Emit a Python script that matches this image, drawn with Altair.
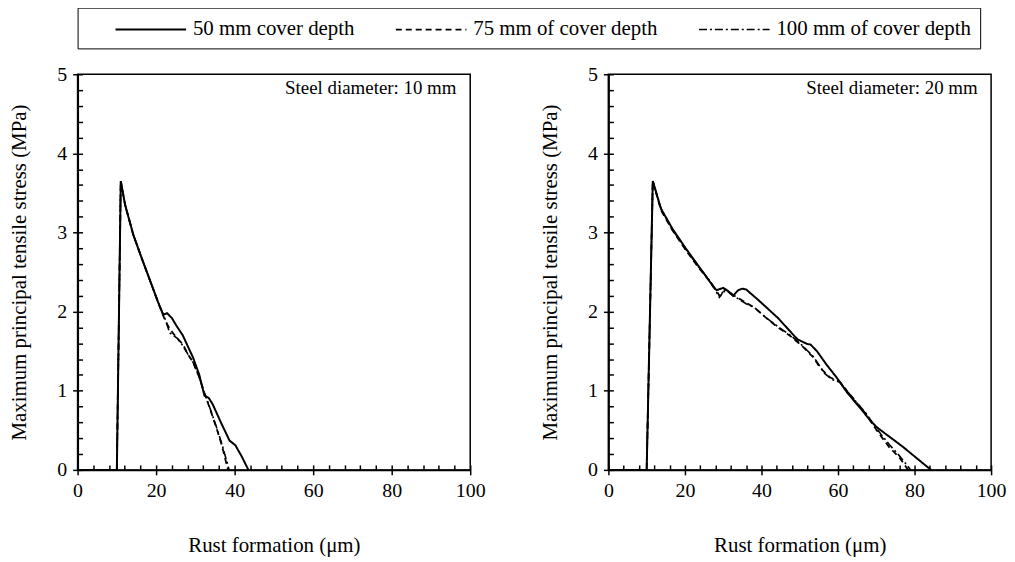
import altair as alt
import pandas as pd

FONT = "'Liberation Serif', 'Times New Roman', serif"
SERIES = ["50 mm cover depth", "75 mm of cover depth", "100 mm of cover depth"]

X_MAJOR = [0, 20, 40, 60, 80, 100]
X_MINOR = list(range(0, 101, 4))
Y_MAJOR = [0, 1, 2, 3, 4, 5]
Y_MINOR = [i / 5 for i in range(0, 26)]

# ---- Steel diameter 10 mm ----
d10_c50_x = [0, 10, 11.0, 12.1, 14.2, 16.3, 18.4, 20.5, 21.8, 22.8, 24.0, 25.2, 26.8, 28.0, 29.4, 31.0, 32.3, 33.4, 34.4, 36.5, 38.7, 40.2, 41.8, 43.5]
d10_c50_y = [0, 0, 3.65, 3.35, 2.97, 2.68, 2.40, 2.12, 1.96, 1.98, 1.92, 1.82, 1.70, 1.57, 1.42, 1.20, 0.94, 0.91, 0.83, 0.60, 0.37, 0.31, 0.17, 0]
d10_c75_x = [0, 10, 11.0, 12.1, 14.2, 16.3, 18.4, 20.5, 22.2, 23.5, 25.2, 26.8, 28.0, 29.4, 31.0, 32.3, 33.8, 35.3, 36.8, 38.3]
d10_c75_y = [0, 0, 3.65, 3.35, 2.97, 2.68, 2.40, 2.12, 1.90, 1.78, 1.67, 1.59, 1.47, 1.36, 1.17, 0.97, 0.76, 0.54, 0.30, 0]
d10_c100_x = [0, 10, 11.0, 12.1, 14.2, 16.3, 18.4, 20.5, 22.2, 23.5, 24.3, 25.5, 26.8, 28.0, 29.4, 31.0, 32.3, 33.8, 35.3, 36.8, 38.6]
d10_c100_y = [0, 0, 3.65, 3.35, 2.97, 2.68, 2.40, 2.12, 1.92, 1.73, 1.70, 1.66, 1.57, 1.47, 1.36, 1.17, 0.97, 0.77, 0.55, 0.32, 0]

# ---- Steel diameter 20 mm ----
d20_c50_x = [0, 10, 11.6, 13.75, 16.7, 20.2, 23.5, 26.2, 27.5, 28.3, 28.8, 30.0, 31.3, 32.6, 33.9, 35.0, 36.0, 39.1, 44.3, 49.4, 52.0, 52.8, 54.5, 57.0, 59.6, 62.5, 66.0, 68.5, 70.1, 73.4, 77.0, 80.5, 84.3]
d20_c50_y = [0, 0, 3.65, 3.30, 3.05, 2.80, 2.58, 2.40, 2.31, 2.27, 2.28, 2.30, 2.26, 2.20, 2.27, 2.29, 2.28, 2.15, 1.92, 1.65, 1.59, 1.585, 1.50, 1.33, 1.17, 0.97, 0.77, 0.62, 0.54, 0.42, 0.29, 0.15, 0]
d20_c75_x = [0, 10, 11.6, 13.75, 16.7, 20.2, 23.5, 26.2, 27.5, 28.3, 29.0, 29.8, 30.5, 31.3, 32.6, 34.0, 36.0, 38.2, 41.0, 44.3, 47.6, 50.5, 53.6, 55.3, 57.9, 60.5, 64.0, 67.4, 70.1, 73.4, 76.0, 78.3]
d20_c75_y = [0, 0, 3.65, 3.28, 3.03, 2.78, 2.56, 2.40, 2.31, 2.26, 2.20, 2.21, 2.28, 2.26, 2.21, 2.17, 2.11, 2.05, 1.93, 1.80, 1.69, 1.57, 1.42, 1.29, 1.17, 1.11, 0.90, 0.70, 0.50, 0.285, 0.16, 0]
d20_c100_x = [0, 10, 11.6, 13.75, 16.7, 20.2, 23.5, 26.2, 27.5, 28.3, 29.0, 29.6, 30.2, 31.3, 32.6, 34.0, 36.0, 38.2, 41.0, 44.3, 47.6, 50.5, 53.6, 56.5, 58.5, 60.5, 64.0, 67.4, 70.1, 73.4, 76.0, 79.0]
d20_c100_y = [0, 0, 3.65, 3.30, 3.04, 2.79, 2.57, 2.41, 2.32, 2.24, 2.18, 2.22, 2.29, 2.25, 2.20, 2.16, 2.10, 2.05, 1.93, 1.81, 1.70, 1.58, 1.43, 1.22, 1.14, 1.11, 0.90, 0.71, 0.52, 0.32, 0.18, 0]


def make_df(parts):
    rows = []
    for name, xs, ys in parts:
        for i, (x, y) in enumerate(zip(xs, ys)):
            rows.append({"series": name, "x": x, "y": y, "idx": i})
    return pd.DataFrame(rows)


df10 = make_df([(SERIES[0], d10_c50_x, d10_c50_y), (SERIES[1], d10_c75_x, d10_c75_y), (SERIES[2], d10_c100_x, d10_c100_y)])
df20 = make_df([(SERIES[0], d20_c50_x, d20_c50_y), (SERIES[1], d20_c75_x, d20_c75_y), (SERIES[2], d20_c100_x, d20_c100_y)])

# wide line symbol: path spans -1..5 in unit space, so it is 3x as long as the nominal symbol size
LEGEND = alt.Legend(
    title=None, orient="none", legendX=0, legendY=-67, direction="horizontal",
    symbolType="M-1,0H5", symbolSize=560, symbolStrokeWidth=1.8, symbolStrokeColor="black",
    symbolOffset=28,
    labelFont=FONT, labelFontSize=21, labelColor="black", labelLimit=500, labelOffset=53,
    strokeColor="black", padding=9, columnPadding=12,
)


def panel(df, label, width):
    xscale = alt.Scale(domain=[0, 100], nice=False, zero=False)
    yscale = alt.Scale(domain=[0, 5], nice=False, zero=False)
    base = alt.Chart(df)
    lines = base.mark_line(color="black").encode(
        x=alt.X("x:Q", scale=xscale, axis=alt.Axis(
            values=X_MAJOR, title="Rust formation (μm)", tickSize=5, tickWidth=1.5, tickColor="black",
            domainColor="black", domainWidth=2, labelFont=FONT, labelFontSize=20, labelColor="black",
            labelPadding=6, titleFont=FONT, titleFontSize=21, titleFontWeight="normal", titleColor="black",
            titlePadding=34, grid=False, labelFlush=False)),
        y=alt.Y("y:Q", scale=yscale, axis=alt.Axis(
            values=Y_MAJOR, title="Maximum principal tensile stress (MPa)", tickSize=5, tickWidth=1.5,
            tickColor="black", domainColor="black", domainWidth=2, labelFont=FONT, labelFontSize=20,
            labelColor="black", labelPadding=6, titleFont=FONT, titleFontSize=21, titleFontWeight="normal",
            titleColor="black", titlePadding=27, grid=False, labelFlush=False)),
        strokeDash=alt.StrokeDash("series:N", scale=alt.Scale(domain=SERIES, range=[[1, 0], [6, 4], [8, 3, 2, 3]]), legend=LEGEND),
        strokeWidth=alt.StrokeWidth("series:N", scale=alt.Scale(domain=SERIES, range=[2, 1.6, 1.6]), legend=None),
        order="idx:Q",
    )
    minor = base.mark_point(opacity=0).encode(
        x=alt.X("x:Q", scale=xscale, axis=alt.Axis(
            orient="bottom", values=X_MINOR, labels=False, domain=False, tickSize=5, tickWidth=1.5,
            tickColor="black", offset=-5, title=None, grid=False)),
        y=alt.Y("y:Q", scale=yscale, axis=alt.Axis(
            orient="left", values=Y_MINOR, labels=False, domain=False, tickSize=5, tickWidth=1.5,
            tickColor="black", offset=-5, title=None, grid=False)),
    )
    text = alt.Chart(pd.DataFrame({"x": [96.5], "y": [4.82], "t": [label]})).mark_text(
        align="right", baseline="middle", font=FONT, fontSize=19, color="black"
    ).encode(
        x=alt.X("x:Q", scale=xscale, axis=None),
        y=alt.Y("y:Q", scale=yscale, axis=None),
        text="t:N",
    )
    return alt.layer(lines, minor, text).resolve_axis(x="independent", y="independent").properties(width=width, height=398)


left = panel(df10, "Steel diameter: 10 mm", 395)
right = panel(df20, "Steel diameter: 20 mm", 385)

chart = alt.hconcat(left, right, spacing=53).resolve_scale(
    strokeDash="shared", strokeWidth="shared"
).resolve_legend(strokeDash="shared").configure_view(
    stroke="black", strokeWidth=1.5
).properties(padding={"left": 0, "top": -3, "right": 0, "bottom": 0})

chart.save("out.html", embed_options={"renderer": "svg", "actions": False})
